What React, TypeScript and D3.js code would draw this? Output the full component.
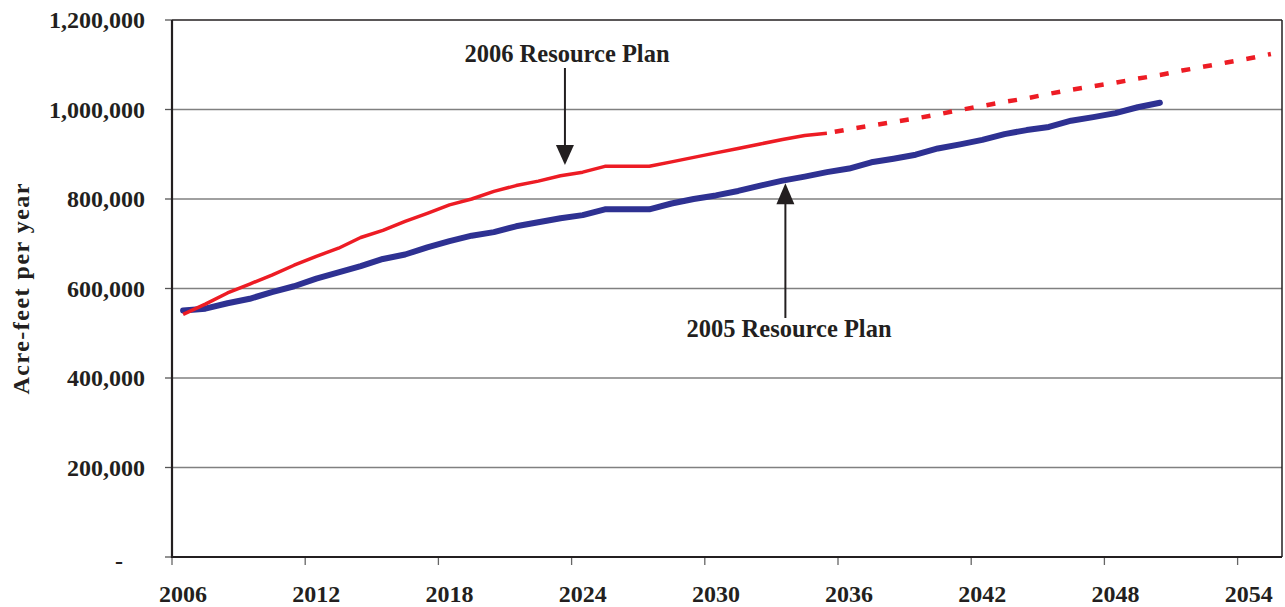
import React from "react";
import * as d3 from "d3";

const years2006Solid: number[] = [2006,2007,2008,2009,2010,2011,2012,2013,2014,2015,2016,2017,2018,2019,2020,2021,2022,2023,2024,2025,2026,2027,2028,2029,2030,2031,2032,2033,2034,2035];
const plan2006Solid: number[] = [542000,565000,590000,610000,630000,652000,672000,690000,714000,730000,750000,768000,787000,800000,817000,830000,840000,852000,860000,873000,873000,873000,883000,893000,903000,913000,923000,933000,942000,947000];
const years2006Dashed: number[] = [2035,2036,2037,2038,2039,2040,2041,2042,2043,2044,2045,2046,2047,2048,2049,2050,2051,2052,2053,2054,2055];
const plan2006Dashed: number[] = [947000,956000,964000,972000,980000,989000,999000,1008000,1017000,1025000,1035000,1044000,1052000,1060000,1069000,1077000,1087000,1096000,1105000,1114000,1124000];
const years2005: number[] = [2006,2007,2008,2009,2010,2011,2012,2013,2014,2015,2016,2017,2018,2019,2020,2021,2022,2023,2024,2025,2026,2027,2028,2029,2030,2031,2032,2033,2034,2035,2036,2037,2038,2039,2040,2041,2042,2043,2044,2045,2046,2047,2048,2049,2050];
const plan2005: number[] = [551000,555000,567000,577000,592000,605000,622000,636000,650000,666000,676000,692000,706000,718000,726000,739000,748000,757000,764000,777000,777000,777000,790000,800000,808000,818000,830000,841000,850000,860000,868000,882000,890000,899000,913000,922000,932000,945000,954000,961000,975000,983000,992000,1005000,1015000];
const yTicks: number[] = [0,200000,400000,600000,800000,1000000,1200000];
const xTickYears: number[] = [2006,2012,2018,2024,2030,2036,2042,2048,2054];

const W = 1285, H = 607;
const L = 172, R = 1282, T = 20, B = 557;
const FONT = "'Liberation Serif', 'Times New Roman', serif";

export default function App() {
  const x = d3.scaleLinear().domain([2006, 2056]).range([L, R]);
  const y = d3.scaleLinear().domain([0, 1200000]).range([B, T]);
  const cx = (yr: number) => x(yr + 0.5);
  const line = d3.line<[number, number]>().x(d => cx(d[0])).y(d => y(d[1]));
  const solidRed = line(years2006Solid.map((yr, i) => [yr, plan2006Solid[i]]));
  const dashRed = line(years2006Dashed.map((yr, i) => [yr, plan2006Dashed[i]]));
  const blue = line(years2005.map((yr, i) => [yr, plan2005[i]]));
  const fmt = d3.format(",");
  const axisColor = "#231f20";

  const a1x = x(2023.7), a1top = 68, a1tip = y(876000);
  const a2x = x(2033.63), a2bot = 318, a2tip = y(835000);

  return (
    <svg width={W} height={H} style={{ position: "absolute", left: 0, top: 0, background: "#fff" }} fontFamily={FONT}>
      {yTicks.filter(t => t > 0 && t < 1200000).map(t => (
        <line key={"g" + t} x1={L} x2={R} y1={y(t)} y2={y(t)} stroke="#808080" strokeWidth={1.3} />
      ))}
      <line x1={L} x2={R} y1={y(1200000)} y2={y(1200000)} stroke={axisColor} strokeWidth={1.5} />
      <line x1={R} x2={R} y1={T} y2={B} stroke={axisColor} strokeWidth={1.5} />
      {yTicks.map(t => (
        <line key={"yt" + t} x1={165} x2={L} y1={y(t)} y2={y(t)} stroke="#555" strokeWidth={1.3} />
      ))}
      {xTickYears.map(t => (
        <line key={"xt" + t} x1={x(t)} x2={x(t)} y1={B} y2={B + 8} stroke="#666" strokeWidth={1.3} />
      ))}
      <line x1={L} x2={L} y1={T} y2={B + 1} stroke={axisColor} strokeWidth={2.2} />
      <line x1={L - 1} x2={R} y1={B} y2={B} stroke={axisColor} strokeWidth={2.2} />

      {yTicks.map(t => (
        <text key={"yl" + t} x={t === 0 ? 123 : 145} y={y(t)} dy={t === 0 ? "0.5em" : "0.35em"} textAnchor="end"
          fontSize={24} fontWeight="bold" fill={axisColor}>{t === 0 ? "-" : fmt(t)}</text>
      ))}
      {xTickYears.map(t => (
        <text key={"xl" + t} x={cx(t)} y={602} textAnchor="middle" fontSize={24} fontWeight="bold" fill={axisColor}>{t}</text>
      ))}
      <text transform={`translate(29,289) rotate(-90)`} textAnchor="middle" fontSize={24} fontWeight="bold" fill={axisColor}
        textLength={211} lengthAdjust="spacing">Acre-feet per year</text>

      <path d={blue || ""} fill="none" stroke="#2e3192" strokeWidth={6} strokeLinejoin="round" strokeLinecap="round" />
      <path d={solidRed || ""} fill="none" stroke="#ed1c24" strokeWidth={3.5} strokeLinejoin="round" />
      <path d={dashRed || ""} fill="none" stroke="#ed1c24" strokeWidth={4.5} strokeDasharray="9,13" strokeDashoffset={-8} />

      <line x1={a1x} x2={a1x} y1={a1top} y2={a1tip - 18} stroke={axisColor} strokeWidth={2} />
      <path d={`M${a1x - 9},${a1tip - 20}L${a1x + 9},${a1tip - 20}L${a1x},${a1tip}Z`} fill={axisColor} />
      <text x={567} y={62} textAnchor="middle" fontSize={24.5} fontWeight="bold" fill={axisColor}>2006 Resource Plan</text>

      <line x1={a2x} x2={a2x} y1={a2bot} y2={a2tip + 18} stroke={axisColor} strokeWidth={2} />
      <path d={`M${a2x - 9},${a2tip + 21}L${a2x + 9},${a2tip + 21}L${a2x},${a2tip}Z`} fill={axisColor} />
      <text x={789} y={337} textAnchor="middle" fontSize={24.5} fontWeight="bold" fill={axisColor}>2005 Resource Plan</text>
    </svg>
  );
}
